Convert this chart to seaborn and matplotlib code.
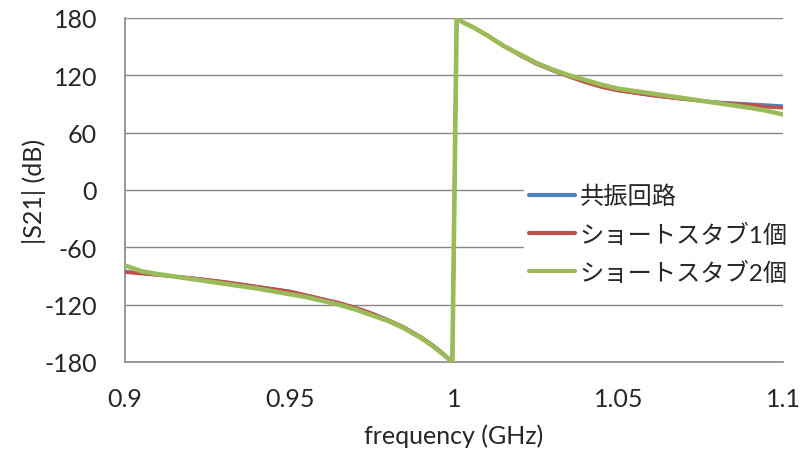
import matplotlib
matplotlib.use("Agg")
import matplotlib.pyplot as plt
import seaborn as sns
import pandas as pd

# ---- data ----
freq = [0.900, 0.905, 0.910, 0.920, 0.930, 0.940, 0.950, 0.955, 0.960, 0.965,
        0.970, 0.975, 0.980, 0.985, 0.990, 0.993, 0.996, 0.9995, 1.0008, 1.003,
        1.006, 1.010, 1.015, 1.020, 1.025, 1.030, 1.035, 1.040, 1.045, 1.050,
        1.060, 1.070, 1.080, 1.090, 1.095, 1.100]
resonator = [-85, -87, -89, -92, -96, -101, -106, -110, -114, -118,
             -123, -129, -136, -144, -154, -161, -169, -180, 179, 175,
             170, 162, 151, 141, 132, 125, 119, 113, 108, 104,
             99, 95, 92, 90, 89, 88]
stub1 = [-86, -87.5, -89, -92, -96, -101, -106, -110, -114, -118,
         -123, -129, -136, -144, -154, -161, -169, -180, 179, 175,
         170, 162, 151, 141, 132, 125, 118.5, 112.5, 107.5, 104,
         99, 95, 91.5, 89, 87, 86]
stub2 = [-79, -85, -88, -93, -98, -103, -109, -112, -116, -120,
         -125, -131, -137, -145, -155, -162, -170, -180, 179, 175,
         170, 162, 151, 142, 133, 126, 120, 115, 110, 106,
         101, 96, 91, 86, 83, 79]
series_names = ["共振回路", "ショートスタブ1個", "ショートスタブ2個"]
x_ticks = [0.9, 0.95, 1.0, 1.05, 1.1]
x_ticklabels = ["0.9", "0.95", "1", "1.05", "1.1"]
y_ticks = [-180, -120, -60, 0, 60, 120, 180]

colors = ["#4F81BD", "#C0504D", "#9BBB59"]
widths = [2.3, 2.5, 3.3]

sns.set_style("white")
plt.rcParams["font.family"] = ["Lato", "Noto Sans CJK JP", "DejaVu Sans"]
plt.rcParams["axes.unicode_minus"] = False

fig = plt.figure(figsize=(8.03, 4.52), dpi=100)
ax = fig.add_axes([125 / 803, 1 - 363 / 452, 658 / 803, 344 / 452])

grid_col = "#878787"
for yv in y_ticks:
    ax.axhline(yv, color=grid_col, lw=1.0, zorder=0)

for name, vals, c, w in zip(series_names, [resonator, stub1, stub2], colors, widths):
    df = pd.DataFrame({"freq": freq, "phase": vals})
    sns.lineplot(data=df, x="freq", y="phase", ax=ax, color=c, linewidth=w,
                 label=name, sort=False, estimator=None, zorder=3)

ax.set_xlim(0.9, 1.1)
ax.set_ylim(-180, 180)
ax.set_xticks(x_ticks)
ax.set_xticklabels(x_ticklabels)
ax.set_yticks(y_ticks)
ax.tick_params(axis="x", direction="out", length=7, width=1.0, color=grid_col,
               labelsize=18, pad=11)
ax.tick_params(axis="y", direction="out", length=8, width=1.0, color=grid_col,
               labelsize=18, pad=12)
ax.grid(False)
for s in ["top", "right"]:
    ax.spines[s].set_visible(False)
for s in ["left", "bottom"]:
    ax.spines[s].set_color(grid_col)
    ax.spines[s].set_linewidth(1.2)

ax.set_xlabel("frequency (GHz)", fontsize=18, labelpad=10)
ax.set_ylabel("|S21| (dB)", fontsize=18, labelpad=-1)

leg = ax.legend(loc="upper left", bbox_to_anchor=(524 / 803, 1 - 181 / 452),
                bbox_transform=fig.transFigure, frameon=True, fancybox=False,
                framealpha=1, edgecolor="white", facecolor="white",
                fontsize=17.5, handlelength=1.9, handletextpad=0.2,
                labelspacing=0.62, borderpad=0.2, borderaxespad=0)
for h in leg.get_lines():
    h.set_linewidth(3.0)
leg.set_zorder(5)

fig.savefig("out.png", dpi=100)
